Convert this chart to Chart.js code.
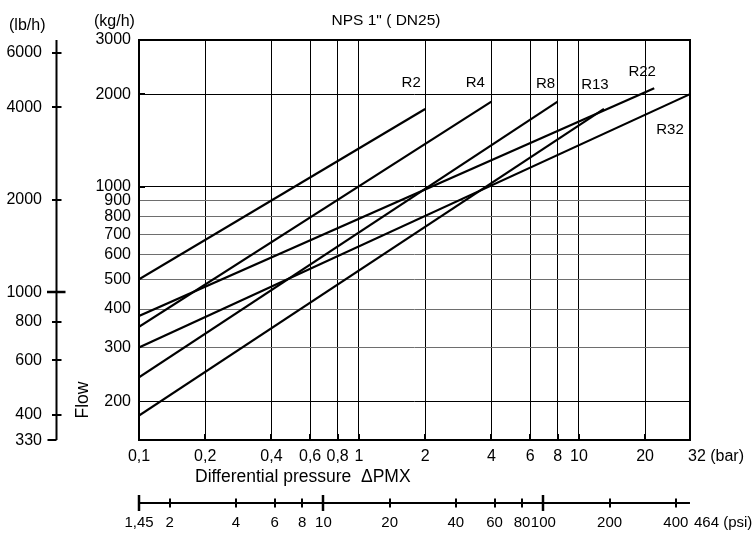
<!DOCTYPE html>
<html>
<head>
<meta charset="utf-8">
<script src="https://cdn.jsdelivr.net/npm/chart.js@4/dist/chart.umd.min.js"></script>
<style>
  html, body { margin: 0; padding: 0; background: #fff; }
  canvas { display: block; }
</style>
</head>
<body>
<canvas id="c" width="754" height="535"></canvas>
<script>
// Flow vs. differential pressure, NPS 1" (DN25): each orifice is a straight line on log-log paper
const seriesNames   = ['R2', 'R4', 'R8', 'R13', 'R22', 'R32'];
const startPressure = [0.1, 0.1, 0.1, 0.1, 0.1, 0.1];        // bar
const endPressure   = [2, 4, 8, 13, 22, 32];                   // bar
const startFlow     = [500, 350, 240, 180, 380, 300];          // kg/h
const endFlow       = [1790, 1890, 1890, 1790, 2090, 2000];    // kg/h

// Axis ticks
const barTicks = [0.1, 0.2, 0.4, 0.6, 0.8, 1, 2, 4, 6, 8, 10, 20, 32];
const kgTicks  = [200, 300, 400, 500, 600, 700, 800, 900, 1000, 2000, 3000];
const kgDark   = [200, 1000, 2000, 3000];
const lbTicks  = [330, 400, 600, 800, 1000, 2000, 4000, 6000];
const lbMajor  = [1000];
const psiTicks = [1.45, 2, 4, 6, 8, 10, 20, 40, 60, 80, 100, 200, 400];
const psiMajor = [1.45, 10, 100];
const psiEnd   = 464;

const LB_PER_KG   = 2.20462;
const PSI_PER_BAR = 14.5038;

// Series label placement, relative to the end of each line (px)
const labelOffsets = [[-14, -26], [-16, -19], [-12, -18], [-9, -24], [-12, -16], [-20, 36]];

const FONT = "'Liberation Sans', Arial, Helvetica, sans-serif";
Chart.defaults.font.family = FONT;
Chart.defaults.color = '#000';

const commaNum = v => String(v).replace('.', ',');

const datasets = seriesNames.map((name, i) => ({
  label: name,
  data: [{ x: startPressure[i], y: startFlow[i] }, { x: endPressure[i], y: endFlow[i] }],
  showLine: true,
  borderColor: '#000',
  borderWidth: 2.2,
  pointRadius: 0,
  pointHoverRadius: 0,
  fill: false,
  tension: 0
}));

// Frame, secondary unit axes (lb/h, psi), titles and series labels
const decor = {
  id: 'decor',
  afterDraw(chart) {
    const { ctx, chartArea: a, scales: { x, y } } = chart;
    ctx.save();
    ctx.fillStyle = '#000';
    ctx.strokeStyle = '#000';
    ctx.lineCap = 'butt';

    // plot frame
    ctx.lineWidth = 2;
    ctx.strokeRect(a.left, a.top, a.right - a.left, a.bottom - a.top);

    // inward stubs on the bottom edge and on the main flow decades
    ctx.beginPath();
    barTicks.slice(1, -1).forEach(v => {
      const px = Math.round(x.getPixelForValue(v));
      ctx.moveTo(px, a.bottom);
      ctx.lineTo(px, a.bottom - 6);
    });
    [1000, 2000].forEach(v => {
      const py = Math.round(y.getPixelForValue(v));
      ctx.moveTo(a.left, py);
      ctx.lineTo(a.left + 6, py);
    });
    ctx.stroke();

    // series labels
    ctx.font = `15px ${FONT}`;
    ctx.textAlign = 'center';
    ctx.textBaseline = 'middle';
    seriesNames.forEach((n, i) => {
      const px = x.getPixelForValue(endPressure[i]);
      const py = y.getPixelForValue(endFlow[i]);
      ctx.fillText(n, px + labelOffsets[i][0], py + labelOffsets[i][1]);
    });

    // last bar tick with unit
    ctx.font = `16px ${FONT}`;
    ctx.textAlign = 'left';
    ctx.fillText('32 (bar)', x.getPixelForValue(32) - 2, a.bottom + 17);

    // x title
    ctx.font = `17.5px ${FONT}`;
    ctx.textBaseline = 'alphabetic';
    ctx.fillText('Differential pressure  \u0394PMX', 195, a.bottom + 42);

    // psi axis
    const psiY = a.bottom + 63;
    const psiX = v => x.getPixelForValue(v / PSI_PER_BAR);
    ctx.lineWidth = 2;
    ctx.beginPath();
    ctx.moveTo(psiX(psiTicks[0]), psiY);
    ctx.lineTo(psiX(psiEnd), psiY);
    ctx.stroke();
    psiTicks.forEach(v => {
      const px = Math.round(psiX(v));
      const big = psiMajor.includes(v);
      ctx.lineWidth = big ? 2.5 : 2;
      ctx.beginPath();
      ctx.moveTo(px, psiY - (big ? 8 : 4.5));
      ctx.lineTo(px, psiY + (big ? 8 : 4.5));
      ctx.stroke();
    });
    ctx.font = `15px ${FONT}`;
    ctx.textAlign = 'center';
    ctx.textBaseline = 'middle';
    psiTicks.forEach(v => ctx.fillText(commaNum(v), psiX(v), psiY + 20));
    ctx.textAlign = 'left';
    ctx.fillText(psiEnd + ' (psi)', psiX(psiEnd) + 4, psiY + 20);

    // lb/h axis
    const lbX = 56.5;
    const lbY = v => y.getPixelForValue(v / LB_PER_KG);
    ctx.lineWidth = 2;
    ctx.beginPath();
    ctx.moveTo(lbX, a.top);
    ctx.lineTo(lbX, a.bottom);
    ctx.stroke();
    lbTicks.forEach((v, i) => {
      const py = Math.round(lbY(v));
      const big = lbMajor.includes(v);
      ctx.lineWidth = big ? 2.5 : 2;
      ctx.beginPath();
      if (i === 0) {
        ctx.moveTo(lbX - 9, py); ctx.lineTo(lbX, py);
      } else if (big) {
        ctx.moveTo(lbX - 9.5, py); ctx.lineTo(lbX + 9, py);
      } else {
        ctx.moveTo(lbX - 4.5, py); ctx.lineTo(lbX + 5, py);
      }
      ctx.stroke();
    });
    ctx.font = `16px ${FONT}`;
    ctx.textAlign = 'right';
    lbTicks.forEach(v => ctx.fillText(String(v), 42, lbY(v)));

    // unit headers and title
    ctx.font = `16px ${FONT}`;
    ctx.textAlign = 'left';
    ctx.textBaseline = 'alphabetic';
    ctx.fillText('(lb/h)', 9, 30);
    ctx.fillText('(kg/h)', 94, 26);
    ctx.font = `15.5px ${FONT}`;
    ctx.textAlign = 'center';
    ctx.fillText('NPS 1" ( DN25)', 386, 25);

    // y title
    ctx.save();
    ctx.translate(83, 400);
    ctx.rotate(-Math.PI / 2);
    ctx.font = `17.5px ${FONT}`;
    ctx.textAlign = 'center';
    ctx.textBaseline = 'middle';
    ctx.fillText('Flow', 0, 0);
    ctx.restore();

    ctx.restore();
  }
};

new Chart(document.getElementById('c'), {
  type: 'scatter',
  data: { datasets },
  options: {
    responsive: false,
    animation: false,
    devicePixelRatio: 1,
    layout: { padding: { left: 0, top: 40, right: 64, bottom: 70 } },
    plugins: { legend: { display: false }, tooltip: { enabled: false } },
    scales: {
      x: {
        type: 'logarithmic',
        min: 0.1,
        max: 32,
        afterBuildTicks: s => { s.ticks = barTicks.map(v => ({ value: v })); },
        afterFit: s => { s.height = 25; },
        ticks: {
          callback: v => (v === 32 ? '' : commaNum(v)),
          font: { size: 16, lineHeight: 1 },
          padding: 9,
          maxRotation: 0,
          autoSkip: false,
          color: '#000'
        },
        grid: { color: '#000', lineWidth: 1, drawTicks: false },
        border: { display: false }
      },
      y: {
        type: 'logarithmic',
        min: 150,
        max: 3000,
        afterBuildTicks: s => { s.ticks = kgTicks.map(v => ({ value: v })); },
        afterFit: s => { s.width = 139; },
        ticks: {
          callback: v => String(v),
          font: { size: 16 },
          padding: 8,
          autoSkip: false,
          color: '#000'
        },
        grid: {
          color: c => (c.tick && kgDark.includes(c.tick.value) ? '#000' : '#6e6e6e'),
          lineWidth: 1,
          drawTicks: false
        },
        border: { display: false }
      }
    }
  },
  plugins: [decor]
});
</script>
</body>
</html>
